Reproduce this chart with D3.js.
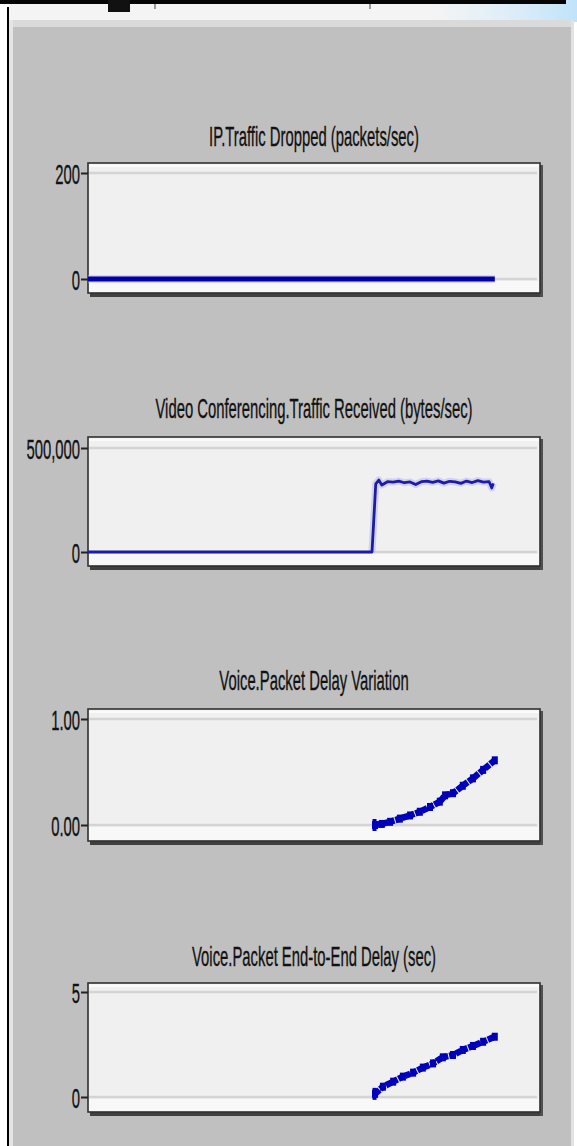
<!DOCTYPE html>
<html><head><meta charset="utf-8">
<script src="https://cdn.jsdelivr.net/npm/d3@7"></script>
<style>html,body{margin:0;padding:0;background:#fff;} svg{display:block}</style>
</head><body><svg id="c" width="577" height="1146"></svg>
<script>
// ---------- data ----------
const titles = [
  "IP.Traffic Dropped (packets/sec)",
  "Video Conferencing.Traffic Received (bytes/sec)",
  "Voice.Packet Delay Variation",
  "Voice.Packet End-to-End Delay (sec)"
];
const droppedT = [0, 20, 40, 60, 80, 100, 108];
const droppedV = [0, 0, 0, 0, 0, 0, 0];

const videoT = [0, 10, 20, 30, 40, 50, 60, 70, 75.4, 76.4, 77.2, 78.0, 79.5, 81, 82.5, 84, 85.5, 87, 88.5, 90, 91.5, 93, 94.5, 96, 97.5, 99, 100.5, 102, 103.5, 105, 106.5, 107.2, 107.6];
const videoV = [0, 0, 0, 0, 0, 0, 0, 0, 0, 328000, 346000, 322000, 338000, 336000, 341000, 333000, 337000, 324000, 338000, 341000, 335000, 342000, 331000, 340000, 337000, 330000, 341000, 334000, 343000, 336000, 338000, 308000, 330000];

const pdvT = [76.2, 78.0, 80.2, 82.8, 85.5, 88.1, 90.8, 93.4, 94.8, 96.9, 99.5, 102.2, 104.9, 108.0];
const pdvV = [0.00, 0.01, 0.03, 0.06, 0.09, 0.125, 0.17, 0.22, 0.28, 0.30, 0.37, 0.44, 0.52, 0.61];

const e2eT = [76.2, 78.3, 81.0, 83.6, 86.3, 88.9, 91.6, 94.2, 96.9, 99.5, 102.2, 104.9, 108.0];
const e2eV = [0.15, 0.49, 0.73, 0.97, 1.16, 1.40, 1.60, 1.89, 2.00, 2.24, 2.43, 2.63, 2.87];

const ticks1 = [0, 200],      labels1 = ["0", "200"];
const ticks2 = [0, 500000],   labels2 = ["0", "500,000"];
const ticks3 = [0, 1],        labels3 = ["0.00", "1.00"];
const ticks4 = [0, 5],        labels4 = ["0", "5"];

// ---------- layout ----------
const svg = d3.select("#c");
const W = 577, H = 1146;
const PL = 88, PR = 540;
const x = d3.scaleLinear().domain([0, 120]).range([PL, PR]);
const FONT = "'Liberation Sans', Arial, sans-serif";
const SX = 0.53, FS = 28;

// frame
svg.append("rect").attr("x",0).attr("y",0).attr("width",W).attr("height",H).attr("fill","#ffffff");
const grad = svg.append("defs").append("linearGradient").attr("id","glow").attr("x1","0").attr("x2","1").attr("y1","0").attr("y2","0");
grad.append("stop").attr("offset","0").attr("stop-color","#d6ecfb").attr("stop-opacity",0);
grad.append("stop").attr("offset","1").attr("stop-color","#bfe3fa").attr("stop-opacity",1);
svg.append("rect").attr("x",9).attr("y",4).attr("width",562).attr("height",17).attr("fill","#f4f4f4");
svg.append("rect").attr("x",430).attr("y",0).attr("width",147).attr("height",22).attr("fill","url(#glow)");
svg.append("rect").attr("x",0).attr("y",0).attr("width",566).attr("height",4).attr("fill","#050505");
svg.append("rect").attr("x",108).attr("y",0).attr("width",22).attr("height",12).attr("fill","#111");
svg.append("rect").attr("x",154).attr("y",4).attr("width",2).attr("height",5).attr("fill","#999");
svg.append("rect").attr("x",369).attr("y",4).attr("width",2).attr("height",5).attr("fill","#999");
svg.append("rect").attr("x",9).attr("y",20).attr("width",563).attr("height",8).attr("fill","#dadada");
svg.append("rect").attr("x",9).attr("y",20).attr("width",4).attr("height",H-20).attr("fill","#e4e4e4");
svg.append("rect").attr("x",13).attr("y",27).attr("width",558).attr("height",H-27).attr("fill","#c0c0c0");
svg.append("rect").attr("x",571).attr("y",20).attr("width",3).attr("height",H-20).attr("fill","#e2e2e2");
svg.append("rect").attr("x",7).attr("y",7).attr("width",2).attr("height",H-7).attr("fill","#000");

const panels = [
  {title: titles[0], tb: 146, top: 163, bot: 293, y0: 279, y1: 173, tv: ticks1, tl: labels1,
   series: [{t: droppedT, v: droppedV}], style: "flat"},
  {title: titles[1], tb: 418, top: 437, bot: 566, y0: 552, y1: 448, tv: ticks2, tl: labels2,
   series: [{t: videoT, v: videoV}], style: "thin"},
  {title: titles[2], tb: 690, top: 709, bot: 841, y0: 825, y1: 719, tv: ticks3, tl: labels3,
   series: [{t: pdvT, v: pdvV}], style: "block"},
  {title: titles[3], tb: 966, top: 983, bot: 1112, y0: 1097, y1: 992, tv: ticks4, tl: labels4,
   series: [{t: e2eT, v: e2eV}], style: "block"}
];

panels.forEach(p => {
  const g = svg.append("g");
  const y = d3.scaleLinear().domain([p.tv[0], p.tv[1]]).range([p.y0, p.y1]);
  // title
  g.append("text").attr("transform", `translate(314,${p.tb}) scale(${SX},1)`)
    .attr("text-anchor","middle").attr("font-family",FONT).attr("font-size",FS)
    .attr("fill","#111").attr("stroke","#111").attr("stroke-width",0.35).text(p.title);
  // shadow
  g.append("rect").attr("x",PL+2).attr("y",p.bot).attr("width",PR-PL+1).attr("height",4).attr("fill","#404040");
  g.append("rect").attr("x",PR).attr("y",p.top+2).attr("width",3).attr("height",p.bot-p.top+2).attr("fill","#505050");
  // plot bg
  g.append("rect").attr("x",PL).attr("y",p.top).attr("width",PR-PL).attr("height",p.bot-p.top)
    .attr("fill","#f0f0f0").attr("stroke","#303030").attr("stroke-width",1.6);
  g.append("rect").attr("x",PL+1).attr("y",p.top+1.5).attr("width",PR-PL-2).attr("height",2.5).attr("fill","#fafafa");
  g.append("rect").attr("x",PL+1).attr("y",p.y0+2).attr("width",PR-PL-2).attr("height",p.bot-p.y0-3).attr("fill","#f8f8f8");
  // gridlines
  g.append("g").selectAll("line").data(p.tv).join("line")
    .attr("x1",PL+1).attr("x2",PR-3).attr("y1",d=>y(d)).attr("y2",d=>y(d))
    .attr("stroke","#d4d4d4").attr("stroke-width",2.5);
  // axis
  const ax = g.append("g").attr("transform",`translate(${PL},0)`)
    .call(d3.axisLeft(y).tickValues(p.tv).tickFormat((d,i)=>p.tl[i]).tickSize(7).tickPadding(2));
  ax.select(".domain").remove();
  ax.selectAll(".tick line").attr("stroke","#222").attr("stroke-width",2);
  ax.selectAll(".tick text").attr("x",0).attr("dy",null)
    .attr("transform",`translate(-8,10) scale(${SX},1)`)
    .attr("font-family",FONT).attr("font-size",FS).attr("fill","#111")
    .attr("stroke","#111").attr("stroke-width",0.35);
  // series
  p.series.forEach(s => {
    const pts = s.t.map((t,i)=>[t, s.v[i]]);
    const line = d3.line().x(d=>x(d[0])).y(d=>y(d[1]));
    if (p.style === "flat") {
      g.append("path").attr("d",line(pts)).attr("fill","none").attr("stroke","#b8b8f0").attr("stroke-width",8).attr("opacity",0.5);
      g.append("path").attr("d",line(pts)).attr("fill","none").attr("stroke","#0000a8").attr("stroke-width",5);
    } else if (p.style === "thin") {
      g.append("path").attr("d",line(pts.filter(d=>d[0]>75))).attr("fill","none").attr("stroke","#9a9aee").attr("stroke-width",7).attr("opacity",0.35).attr("stroke-linejoin","round");
      g.append("path").attr("d",line(pts)).attr("fill","none").attr("stroke","#1c1ca8").attr("stroke-width",2.8).attr("stroke-linejoin","round");
    } else {
      g.append("path").attr("d",line(pts)).attr("fill","none").attr("stroke","#0000c8").attr("stroke-width",6.5).attr("stroke-dasharray","6,1");
      g.append("g").selectAll("rect").data(pts).join("rect")
        .attr("x",d=>x(d[0])-3).attr("y",d=>y(d[1])-4).attr("width",6).attr("height",8).attr("fill","#0000b4");
      const first = pts[0];
      g.append("rect").attr("x",x(first[0])-2.5).attr("y",y(first[1])-6).attr("width",4).attr("height",12).attr("fill","#0000c0");
    }
  });
});
</script></body></html>
